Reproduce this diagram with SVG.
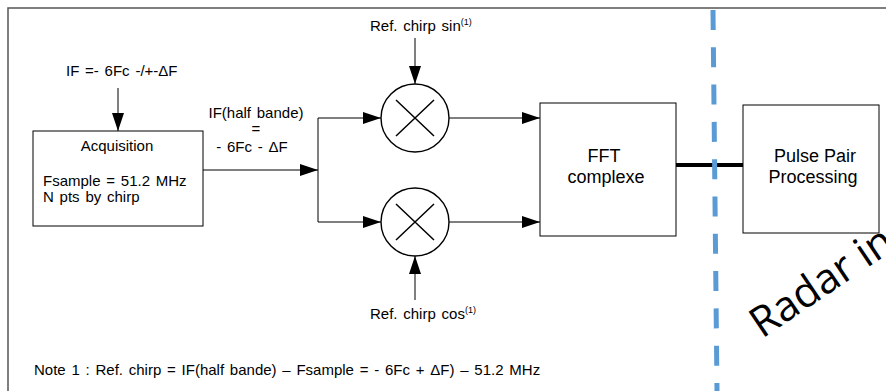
<svg xmlns="http://www.w3.org/2000/svg" width="886" height="391" viewBox="0 0 886 391">
<defs>
<style>
.t{font-family:"Liberation Sans",Arial,sans-serif;font-size:15px;word-spacing:1.6px;fill:#000}
.s{font-size:9px}
.big{font-family:"Liberation Sans",Arial,sans-serif;font-size:18px;fill:#000}
.box{fill:#fff;stroke:#000;stroke-width:1}
.ln{fill:none;stroke:#000;stroke-width:1}
.mx{fill:#fff;stroke:#000;stroke-width:1.4}
.cr{fill:none;stroke:#000;stroke-width:1.5}
</style>
<marker id="ah" markerUnits="userSpaceOnUse" markerWidth="18" markerHeight="12" refX="18" refY="6" orient="auto">
<path d="M0,0 L18,6 L0,12 z" fill="#000"/>
</marker>
</defs>
<rect width="886" height="391" fill="#fff"/>
<path d="M8,391 V8 H886" fill="none" stroke="#555" stroke-width="1.5"/>

<g id="connectors">
<line class="ln" x1="118" y1="88" x2="118" y2="131" marker-end="url(#ah)"/>
<line class="ln" x1="203" y1="170" x2="318" y2="170" marker-end="url(#ah)"/>
<line class="ln" x1="318" y1="118" x2="318" y2="222"/>
<line class="ln" x1="318" y1="118" x2="381" y2="118" marker-end="url(#ah)"/>
<line class="ln" x1="318" y1="222" x2="381" y2="222" marker-end="url(#ah)"/>
<line class="ln" x1="449" y1="118" x2="540" y2="118" marker-end="url(#ah)"/>
<line class="ln" x1="449" y1="222" x2="540" y2="222" marker-end="url(#ah)"/>
<line class="ln" x1="415" y1="38" x2="415" y2="84" marker-end="url(#ah)"/>
<line class="ln" x1="415" y1="300" x2="415" y2="256" marker-end="url(#ah)"/>
<line x1="676" y1="165" x2="743" y2="165" stroke="#000" stroke-width="4"/>
</g>

<g id="if-label"><text class="t" x="66" y="76">IF =- 6Fc -/+-ΔF</text></g>

<g id="acquisition">
<rect class="box" x="33" y="131" width="170" height="95"/>
<text class="t" x="117" y="151" text-anchor="middle">Acquisition</text>
<text class="t" x="43" y="186">Fsample = 51.2 MHz</text>
<text class="t" x="43" y="202">N pts by chirp</text>
</g>

<g id="if-half">
<text class="t" x="256" y="118" text-anchor="middle">IF(half bande)</text>
<text class="t" x="256" y="134" text-anchor="middle">=</text>
<text class="t" x="252" y="152" text-anchor="middle">- 6Fc - ΔF</text>
</g>

<g id="ref-sin"><text class="t" x="370" y="31">Ref. chirp sin<tspan class="s" dy="-6">(1)</tspan></text></g>

<g id="mixer-sin">
<circle class="mx" cx="415" cy="118" r="34"/>
<path class="cr" d="M396,100 L434,136 M434,100 L396,136"/>
</g>

<g id="mixer-cos">
<circle class="mx" cx="415" cy="222" r="34"/>
<path class="cr" d="M396,204 L434,240 M434,204 L396,240"/>
</g>

<g id="ref-cos"><text class="t" x="370" y="319">Ref. chirp cos<tspan class="s" dy="-6">(1)</tspan></text></g>

<g id="fft">
<rect class="box" x="540" y="103" width="136" height="133"/>
<text class="big" x="604" y="162" text-anchor="middle">FFT</text>
<text class="big" x="606" y="183" text-anchor="middle">complexe</text>
</g>

<g id="pulse-pair">
<rect class="box" x="743" y="105" width="136" height="128" stroke="#222"/>
<text class="big" x="815" y="162" text-anchor="middle">Pulse Pair</text>
<text class="big" x="813" y="183" text-anchor="middle">Processing</text>
</g>

<line x1="713" y1="10" x2="717" y2="391" stroke="#5b9bd5" stroke-width="5" stroke-dasharray="20 17.3"/>

<text x="762" y="339" transform="rotate(-34 762 339)" font-family="'Open Sans',sans-serif" font-size="42" fill="#000">Radar in</text>

<g id="note"><text class="t" x="34" y="375">Note 1 : Ref. chirp = IF(half bande) – Fsample = - 6Fc + ΔF) – 51.2 MHz</text></g>
</svg>
